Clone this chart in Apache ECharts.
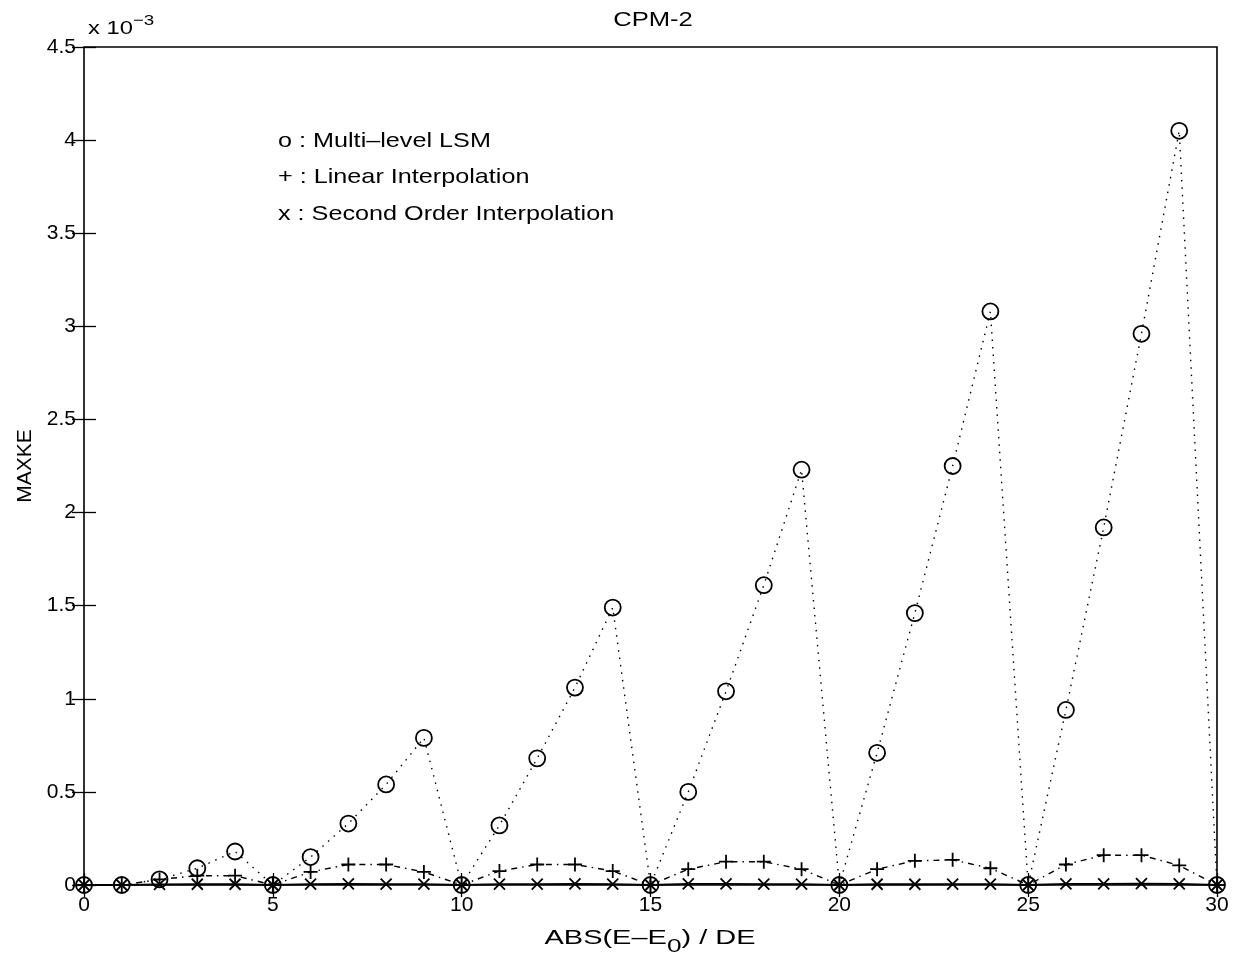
<!DOCTYPE html>
<html>
<head>
<meta charset="utf-8">
<script src="https://cdn.jsdelivr.net/npm/echarts@6/dist/echarts.min.js"></script>
<style>html,body{margin:0;padding:0;background:#fff;}#c{width:1242px;height:955px;}</style>
</head>
<body>
<div id="c"></div>
<script>
// x positions: ABS(E-E0)/DE
const xValues = [0,1,2,3,4,5,6,7,8,9,10,11,12,13,14,15,16,17,18,19,20,21,22,23,24,25,26,27,28,29,30];
// MAXKE values in units of 1e-3
const multiLevelLSM = [0,0,0.03,0.09,0.18,0,0.15,0.33,0.54,0.79,0,0.32,0.68,1.06,1.49,0,0.50,1.04,1.61,2.23,0,0.71,1.46,2.25,3.08,0,0.94,1.92,2.96,4.05,0];
const linearInterp = [0,0,0.03,0.05,0.05,0,0.07,0.11,0.11,0.07,0,0.075,0.11,0.11,0.075,0,0.085,0.125,0.125,0.085,0,0.085,0.13,0.135,0.09,0,0.11,0.16,0.16,0.105,0];
const secondOrderInterp = [0,0,0.003,0.004,0.004,0,0.005,0.006,0.005,0.005,0,0.005,0.005,0.006,0.005,0,0.006,0.006,0.005,0.005,0,0.004,0.004,0.005,0.005,0,0.006,0.006,0.007,0.006,0];
const yTicks = {min:0, max:4.5, interval:0.5};
const xTicks = {min:0, max:30, interval:5};
const legendLines = ['o : Multi\u2013level LSM', '+ : Linear Interpolation', 'x : Second Order Interpolation'];
const titleText = 'CPM-2';
const yName = 'MAXKE';

const pair = (ys) => xValues.map((x,i)=>[x, ys[i]]);
const FONT = 'Liberation Sans, Arial, Helvetica, sans-serif';
const chart = echarts.init(document.getElementById('c'), null, {renderer:'canvas'});
const plusPath = 'path://M0,-1L0,1M-1,0L1,0';
const crossPath = 'path://M-1,-1L1,1M-1,1L1,-1';
const axisCommon = {
  axisLine:{show:false},
  axisTick:{show:true, inside:true, length:12, lineStyle:{color:'#000', width:1.3}},
  splitLine:{show:false},
};
const txt = (text, x, y, size, align, sx, extra) => ({type:'text', x:x, y:y, scaleX:sx, z:10,
  style:Object.assign({text:text, fontFamily:FONT, fontSize:size, fill:'#000', align:align, verticalAlign:'middle'}, extra||{})});
chart.setOption({
  animation:false,
  backgroundColor:'#fff',
  grid:{left:84, right:25, top:47, bottom:70, show:true, borderColor:'#000', borderWidth:1.6, backgroundColor:'transparent', outerBoundsMode:'none', containLabel:false},
  xAxis:[
    Object.assign({type:'value', min:xTicks.min, max:xTicks.max, interval:xTicks.interval, position:'bottom',
      axisLabel:{color:'#000', fontFamily:FONT, fontSize:21, margin:10}}, axisCommon),
    Object.assign({type:'value', min:xTicks.min, max:xTicks.max, interval:xTicks.interval, position:'top', axisLabel:{show:false}}, axisCommon)
  ],
  yAxis:[
    Object.assign({type:'value', min:yTicks.min, max:yTicks.max, interval:yTicks.interval, position:'left',
      axisLabel:{color:'#000', fontFamily:FONT, fontSize:21, margin:8},
      name:yName, nameLocation:'middle', nameGap:47, nameRotate:90,
      nameTextStyle:{color:'#000', fontFamily:FONT, fontSize:21}
    }, axisCommon),
    Object.assign({type:'value', min:yTicks.min, max:yTicks.max, interval:yTicks.interval, position:'right', axisLabel:{show:false}}, axisCommon)
  ],
  graphic:[
    txt(titleText, 653, 20, 21, 'center', 1.22),
    txt('x 10{sup|\u22123}', 88, 29, 19, 'left', 1.25, {rich:{sup:{fontFamily:FONT, fontSize:15, fill:'#000', verticalAlign:'top', padding:[0,0,16,0]}}}),
    txt(legendLines[0], 278, 141, 21, 'left', 1.2),
    txt(legendLines[1], 278, 177, 21, 'left', 1.2),
    txt(legendLines[2], 278, 214, 21, 'left', 1.2),
    txt('ABS(E\u2013E{sub|0}) / DE', 650, 938, 21, 'center', 1.38, {rich:{sub:{fontFamily:FONT, fontSize:19, fill:'#000', verticalAlign:'bottom', padding:[18,0,0,0]}}})
  ],
  series:[
    {type:'line', name:'Second Order Interpolation', data:pair(secondOrderInterp), symbol:crossPath, symbolSize:11,
      lineStyle:{color:'#000', width:1.8, type:'solid'},
      itemStyle:{color:'#000', borderColor:'#000', borderWidth:1.8}, z:3},
    {type:'line', name:'Linear Interpolation', data:pair(linearInterp), symbol:plusPath, symbolSize:14,
      lineStyle:{color:'#000', width:1.4, type:[6,5,1.5,5]},
      itemStyle:{color:'#000', borderColor:'#000', borderWidth:1.8}, z:4},
    {type:'line', name:'Multi-level LSM', data:pair(multiLevelLSM), symbol:'circle', symbolSize:16,
      lineStyle:{color:'#000', width:1.4, type:[1.5,6]},
      itemStyle:{color:'rgba(0,0,0,0)', borderColor:'#000', borderWidth:1.8}, z:5}
  ]
});
</script>
</body>
</html>
